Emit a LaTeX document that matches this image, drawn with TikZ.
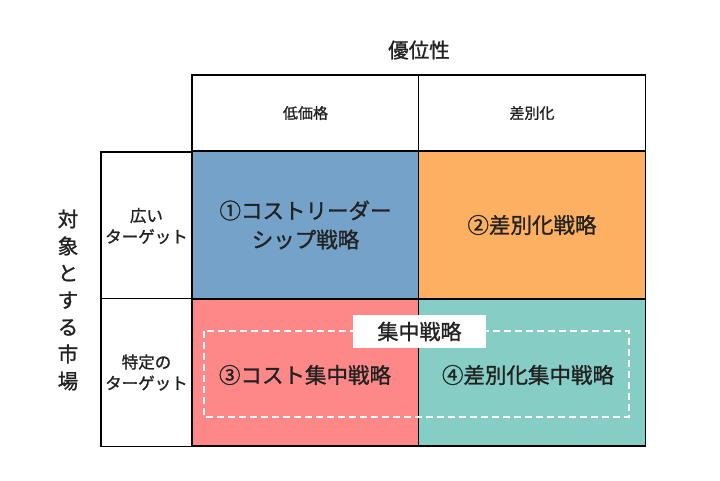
\documentclass[tikz,border=0pt]{standalone}
\usepackage{fontspec}
\setmainfont{Noto Sans CJK JP}
\newfontfamily\midfont{Noto Sans CJK JP}[FakeBold=1.2]
\definecolor{leadblue}{RGB}{117,162,200}
\definecolor{difforange}{RGB}{254,176,98}
\definecolor{focuspink}{RGB}{254,136,136}
\definecolor{focusteal}{RGB}{133,205,197}
\definecolor{ink}{RGB}{34,34,34}
\tikzset{
    cell/.style={rectangle,draw=black,line width=1.6pt,inner sep=0pt,text=ink,align=center,minimum width=227pt,minimum height=148pt,font=\midfont\fontsize{21.5}{29}\selectfont},
    head/.style={cell,fill=white,minimum height=76pt,font=\midfont\fontsize{15}{20}\selectfont},
    side/.style={cell,fill=white,minimum width=91pt,font=\midfont\fontsize{16.5}{21}\selectfont},
    axis/.style={text=ink,align=center,font=\midfont\fontsize{20.5}{27}\selectfont},
    focus/.style={draw=white,line width=1.6pt,dash pattern=on 7pt off 4pt},
    tag/.style={rectangle,fill=white,inner sep=0pt,minimum width=133pt,minimum height=33pt,text=ink,font=\midfont\fontsize{21}{24}\selectfont},
}
\begin{document}
\begin{tikzpicture}[x=1pt,y=-1pt]
    \useasboundingbox (0,0) rectangle (720,480);
    \node[axis] (adv) at (419,50) {優位性};
    \node[axis] (market) at (68,300) {対\\象\\と\\す\\る\\市\\場};
    \node[head] (low) at (305.5,113) {低価格};
    \node[head] (diff) at (532,113) {差別化};
    \node[side] (wide) at (146.5,226) {広い\\ターゲット};
    \node[side] (narrow) at (146.5,372.5) {特定の\\ターゲット};
    \node[cell,fill=leadblue] (c1) at (305.5,225) {①コストリーダー\\シップ戦略};
    \node[cell,fill=difforange] (c2) at (532,225) {②差別化戦略};
    \node[cell,fill=focuspink,minimum height=147pt] (c3) at (305.5,372.5) {};
    \node[cell,fill=focusteal,minimum height=147pt] (c4) at (532,372.5) {};
    \draw[focus] (204,331) rectangle (629,417);
    \node[tag] (focustag) at (419.5,331.5) {集中戦略};
    \node[text=ink,font=\midfont\fontsize{21.5}{29}\selectfont] (t3) at (305,375) {③コスト集中戦略};
    \node[text=ink,font=\midfont\fontsize{21.5}{29}\selectfont] (t4) at (528,375) {④差別化集中戦略};
\end{tikzpicture}
\end{document}
